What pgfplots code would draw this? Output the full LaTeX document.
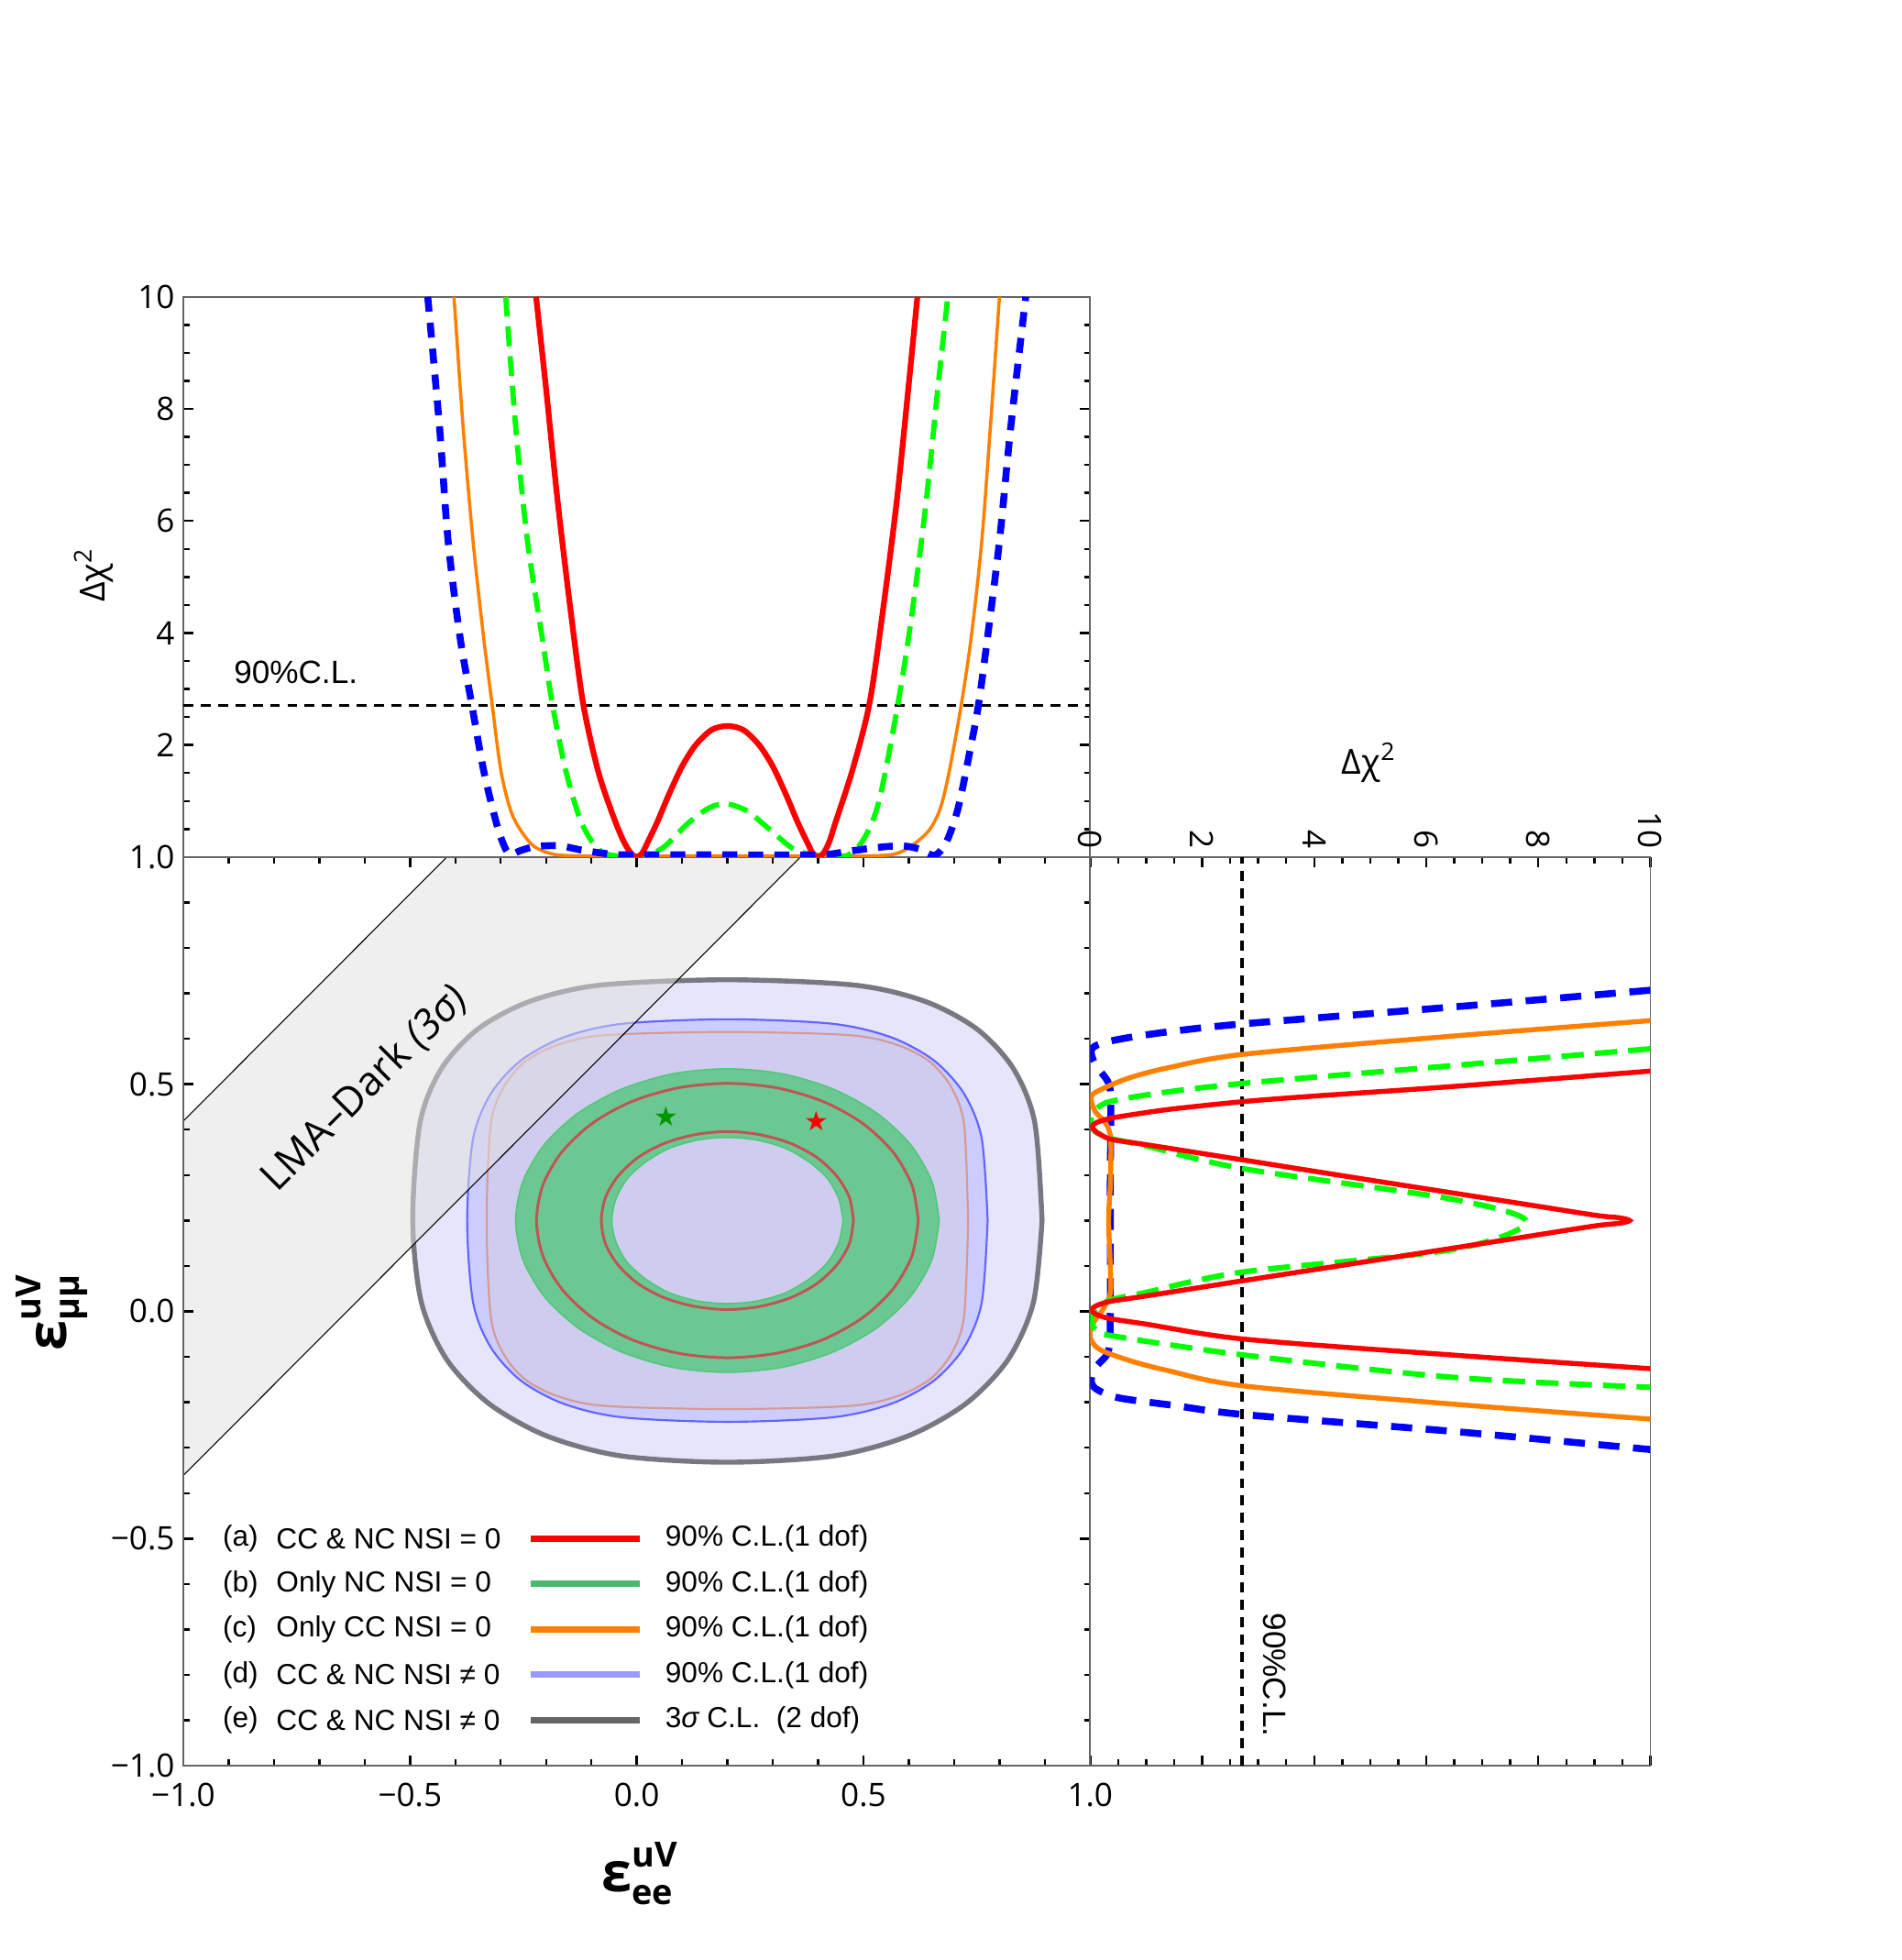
\documentclass[border=0pt]{standalone}
\usepackage{pgfplots}
\pgfplotsset{compat=1.18}
\usepackage{fontspec}
\setmainfont{Liberation Sans}
\newfontfamily\osans{Open Sans}
\newfontfamily\symf{DejaVu Sans}
\definecolor{lav}{RGB}{230,230,250}
\definecolor{dfill}{RGB}{204,204,255}
\definecolor{dline}{RGB}{100,100,255}
\definecolor{cfill}{RGB}{208,204,240}
\definecolor{cline}{RGB}{212,155,150}
\definecolor{gfill}{RGB}{108,200,146}
\definecolor{gline}{RGB}{80,200,120}
\definecolor{rline}{RGB}{190,85,85}
\definecolor{eline}{RGB}{120,120,128}
\definecolor{bandc}{RGB}{224,224,224}
\definecolor{myorange}{RGB}{255,128,0}
\definecolor{mygreen}{RGB}{0,255,0}
\definecolor{leggreen}{RGB}{72,184,112}
\definecolor{legblue}{RGB}{153,153,255}
\definecolor{leggray}{RGB}{102,102,102}
\definecolor{stargreen}{RGB}{0,150,0}
\newcommand\lab[3]{{\fontsize{22}{24}\selectfont #1}\rlap{\raisebox{0.72em}{#2}}\raisebox{-0.38em}{#3}}
\begin{document}
\begin{tikzpicture}
\path[use as bounding box] (-74pt,-78.4pt) rectangle (693.4pt,712.6pt);
\pgfplotsset{every axis/.append style={scale only axis, enlargelimits=false, tick align=inside,
  axis line style={black!60, line width=0.6pt}, tick style={black, line width=0.9pt},
  major tick length=4.2pt, minor tick length=2.5pt,
  tick label style={font=\osans\fontsize{13}{15}\selectfont},
  /pgf/number format/assume math mode=true}}
% ================= MAIN PANEL =================
\begin{axis}[name=main, at={(0,0)}, anchor=south west, width=366pt, height=366.7pt,
  xmin=-1, xmax=1, ymin=-1, ymax=1, axis on top,
  xtick={-1,-0.5,0,0.5,1}, xticklabels={−1.0,−0.5,0.0,0.5,1.0},
  ytick={-1,-0.5,0,0.5,1}, yticklabels={−1.0,−0.5,0.0,0.5,1.0},
  xticklabel style={yshift=-3.5pt},
  minor x tick num=4, minor y tick num=4, xtick pos=both, ytick pos=both]
% (e) 3 sigma 2 dof
\addplot[draw=eline, line width=2pt, fill=lav, smooth] coordinates {
(0.894,0.200) (0.878,0.415) (0.831,0.534) (0.751,0.621) (0.637,0.682) (0.482,0.718) (0.200,0.730)
(-0.082,0.718) (-0.237,0.682) (-0.351,0.621) (-0.431,0.534) (-0.478,0.415) (-0.494,0.200)
(-0.475,0.020) (-0.419,-0.106) (-0.326,-0.203) (-0.199,-0.274) (-0.035,-0.318) (0.200,-0.332)
(0.435,-0.318) (0.599,-0.274) (0.726,-0.203) (0.819,-0.106) (0.875,0.020) (0.894,0.200)};
% (d)
\addplot[draw=dline, line width=0.8pt, fill=dfill, smooth] coordinates {
(0.774,0.200) (0.761,0.380) (0.722,0.479) (0.656,0.552) (0.562,0.603) (0.433,0.633) (0.200,0.643)
(-0.033,0.633) (-0.162,0.603) (-0.256,0.552) (-0.322,0.479) (-0.361,0.380) (-0.374,0.200)
(-0.361,0.020) (-0.322,-0.079) (-0.256,-0.152) (-0.162,-0.203) (-0.033,-0.233) (0.200,-0.243)
(0.433,-0.233) (0.562,-0.203) (0.656,-0.152) (0.722,-0.079) (0.761,0.020) (0.774,0.200)};
% (c)
\addplot[draw=cline, line width=0.8pt, fill=cfill, smooth] coordinates {
(0.731,0.200) (0.722,0.411) (0.694,0.493) (0.647,0.549) (0.576,0.586) (0.470,0.608) (0.200,0.615)
(-0.070,0.608) (-0.176,0.586) (-0.247,0.549) (-0.294,0.493) (-0.322,0.411) (-0.331,0.200)
(-0.322,-0.011) (-0.294,-0.093) (-0.247,-0.149) (-0.176,-0.186) (-0.070,-0.208) (0.200,-0.215)
(0.470,-0.208) (0.576,-0.186) (0.647,-0.149) (0.694,-0.093) (0.722,-0.011) (0.731,0.200)};
% (b) green annulus
\addplot[draw=gline, line width=0.6pt, fill=gfill, smooth] coordinates {
(0.667,0.200) (0.651,0.286) (0.604,0.367) (0.530,0.436) (0.434,0.489) (0.321,0.523) (0.200,0.534)
(0.079,0.523) (-0.034,0.489) (-0.130,0.436) (-0.204,0.367) (-0.251,0.286) (-0.267,0.200)
(-0.251,0.114) (-0.204,0.033) (-0.130,-0.036) (-0.034,-0.089) (0.079,-0.123) (0.200,-0.134)
(0.321,-0.123) (0.434,-0.089) (0.530,-0.036) (0.604,0.033) (0.651,0.114) (0.667,0.200)};
\addplot[draw=gline, line width=0.6pt, fill=cfill, smooth] coordinates {
(0.455,0.200) (0.446,0.247) (0.421,0.292) (0.380,0.329) (0.328,0.359) (0.266,0.377) (0.200,0.383)
(0.134,0.377) (0.072,0.359) (0.020,0.329) (-0.021,0.292) (-0.046,0.247) (-0.055,0.200)
(-0.046,0.153) (-0.021,0.108) (0.020,0.071) (0.072,0.041) (0.134,0.023) (0.200,0.017)
(0.266,0.023) (0.328,0.041) (0.380,0.071) (0.421,0.108) (0.446,0.153) (0.455,0.200)};
% (a) red
\addplot[draw=rline, line width=1.1pt, smooth] coordinates {
(0.621,0.200) (0.607,0.278) (0.565,0.351) (0.498,0.414) (0.411,0.462) (0.309,0.492) (0.200,0.502)
(0.091,0.492) (-0.011,0.462) (-0.098,0.414) (-0.165,0.351) (-0.207,0.278) (-0.221,0.200)
(-0.207,0.122) (-0.165,0.049) (-0.098,-0.014) (-0.011,-0.062) (0.091,-0.092) (0.200,-0.102)
(0.309,-0.092) (0.411,-0.062) (0.498,-0.014) (0.565,0.049) (0.607,0.122) (0.621,0.200)};
\addplot[draw=rline, line width=1.1pt, smooth] coordinates {
(0.478,0.200) (0.469,0.251) (0.441,0.298) (0.397,0.339) (0.339,0.370) (0.272,0.389) (0.200,0.396)
(0.128,0.389) (0.061,0.370) (0.003,0.339) (-0.041,0.298) (-0.069,0.251) (-0.078,0.200)
(-0.069,0.149) (-0.041,0.102) (0.003,0.061) (0.061,0.030) (0.128,0.011) (0.200,0.004)
(0.272,0.011) (0.339,0.030) (0.397,0.061) (0.441,0.102) (0.469,0.149) (0.478,0.200)};
% LMA-Dark band
\addplot[draw=none, fill=bandc, fill opacity=0.5] coordinates {(-1,0.419) (-0.419,1) (0.361,1) (-1,-0.361)} -- cycle;
\addplot[black, line width=0.4pt] coordinates {(-1,0.419) (-0.419,1)};
\addplot[black, line width=0.4pt] coordinates {(-1,-0.361) (0.361,1)};
% best fit stars
\addplot[only marks, mark=text, text mark={\textcolor{stargreen}{\symf\fontsize{11}{11}\selectfont ★}}] coordinates {(0.065,0.43)};
\addplot[only marks, mark=text, text mark={\textcolor{red}{\symf\fontsize{11}{11}\selectfont ★}}] coordinates {(0.397,0.42)};
\node[rotate=45, font=\osans\fontsize{16.3}{18}\selectfont] at (axis cs:-0.6,0.49) {LMA–Dark {\itshape (3σ)}};
% legend
\begin{scope}[every node/.style={anchor=west, font=\fontsize{11.7}{13}\selectfont, inner sep=0pt}]
\node at (axis cs:-0.914,-0.5) {(a)}; \node at (axis cs:-0.796,-0.5) {CC \& NC NSI = 0};
\node at (axis cs:-0.914,-0.6) {(b)}; \node at (axis cs:-0.796,-0.6) {Only NC NSI = 0};
\node at (axis cs:-0.914,-0.7) {(c)}; \node at (axis cs:-0.796,-0.7) {Only CC NSI = 0};
\node at (axis cs:-0.914,-0.8) {(d)}; \node at (axis cs:-0.796,-0.8) {CC \& NC NSI ≠ 0};
\node at (axis cs:-0.914,-0.9) {(e)}; \node at (axis cs:-0.796,-0.9) {CC \& NC NSI ≠ 0};
\node at (axis cs:0.062,-0.5) {90\% C.L.(1 dof)};
\node at (axis cs:0.062,-0.6) {90\% C.L.(1 dof)};
\node at (axis cs:0.062,-0.7) {90\% C.L.(1 dof)};
\node at (axis cs:0.062,-0.8) {90\% C.L.(1 dof)};
\node at (axis cs:0.062,-0.9) {3{\itshape σ} C.L.\ \ (2 dof)};
\end{scope}
\draw[line width=2.6pt, red] (axis cs:-0.233,-0.5) -- (axis cs:0.007,-0.5);
\draw[line width=2.6pt, leggreen] (axis cs:-0.233,-0.6) -- (axis cs:0.007,-0.6);
\draw[line width=2.6pt, myorange] (axis cs:-0.233,-0.7) -- (axis cs:0.007,-0.7);
\draw[line width=2.6pt, legblue] (axis cs:-0.233,-0.8) -- (axis cs:0.007,-0.8);
\draw[line width=2.6pt, leggray] (axis cs:-0.233,-0.9) -- (axis cs:0.007,-0.9);
\end{axis}
% ================= TOP PANEL =================
\begin{axis}[name=top, at={(0,366.7pt)}, anchor=south west, width=366pt, height=226.1pt,
  xmin=-1, xmax=1, ymin=0, ymax=10, xtick=\empty,
  ytick={0,2,4,6,8,10}, yticklabels={,2,4,6,8,10}, minor y tick num=3, ytick pos=both]
\addplot[black, line width=1.2pt, dash pattern=on 4pt off 3pt] coordinates {(-1,2.71) (1,2.71)};
\addplot[myorange, line width=1.3pt, smooth] coordinates {
(-0.403,10) (-0.383,7.68) (-0.361,5.64) (-0.338,3.94) (-0.319,2.73) (-0.300,1.56) (-0.280,0.88)
(-0.261,0.54) (-0.228,0.2) (-0.183,0.05) (-0.12,0.02) (0.0,0.02) (0.2,0.02) (0.4,0.02) (0.5,0.02)
(0.567,0.05) (0.606,0.2) (0.645,0.48) (0.670,0.88) (0.690,1.56) (0.716,2.73) (0.738,3.94)
(0.761,5.64) (0.780,7.68) (0.800,10)};
\addplot[mygreen, line width=2.1pt, dash pattern=on 8pt off 4pt, smooth] coordinates {
(-0.289,10) (-0.267,7.68) (-0.241,5.64) (-0.209,3.94) (-0.186,2.73) (-0.157,1.56) (-0.125,0.68)
(-0.092,0.2) (-0.06,0.04) (0,0.02) (0.03,0.05) (0.063,0.2) (0.114,0.61) (0.16,0.88) (0.198,0.95)
(0.244,0.82) (0.295,0.48) (0.347,0.14) (0.399,0.03) (0.464,0.03) (0.502,0.34) (0.535,1.02)
(0.576,2.73) (0.606,4.28) (0.638,6.32) (0.664,8.36) (0.686,10)};
\addplot[red, line width=2.3pt, smooth] coordinates {
(-0.222,10) (-0.200,8.36) (-0.174,6.32) (-0.144,4.28) (-0.118,2.73) (-0.086,1.56) (-0.055,0.80)
(-0.03,0.3) (-0.012,0.06) (0,0.0) (0.012,0.07) (0.025,0.28) (0.045,0.62) (0.07,1.1) (0.1,1.62)
(0.13,2.0) (0.165,2.27) (0.2,2.34) (0.235,2.27) (0.27,2.0) (0.3,1.62) (0.33,1.1) (0.355,0.62)
(0.375,0.28) (0.388,0.07) (0.4,0.0) (0.412,0.07) (0.425,0.28) (0.438,0.61) (0.476,1.56)
(0.513,2.73) (0.541,4.28) (0.573,6.32) (0.599,8.36) (0.619,10)};
\addplot[blue, line width=2.8pt, dash pattern=on 6pt off 4.5pt, smooth] coordinates {
(-0.461,10) (-0.435,7.68) (-0.416,5.64) (-0.390,3.94) (-0.364,2.73) (-0.338,1.56) (-0.312,0.68)
(-0.295,0.25) (-0.28,0.05) (-0.255,0.12) (-0.222,0.19) (-0.17,0.2) (-0.118,0.12) (-0.054,0.05)
(0.0,0.04) (0.2,0.04) (0.4,0.04) (0.464,0.1) (0.528,0.17) (0.586,0.2) (0.625,0.14) (0.657,0.03)
(0.683,0.27) (0.709,0.88) (0.735,1.9) (0.754,2.73) (0.774,3.94) (0.800,5.64) (0.825,7.68) (0.858,10)};
\node[font=\fontsize{13}{15}\selectfont] at (axis cs:-0.752,3.30) {90\%C.L.};
\end{axis}
% ================= RIGHT PANEL =================
\begin{axis}[name=right, at={(366pt,0)}, anchor=south west, width=226.1pt, height=366.7pt,
  xmin=0, xmax=10, ymin=-1, ymax=1, ytick=\empty,
  xtick={0,2,4,6,8,10}, minor x tick num=3, xtick pos=both, xticklabel pos=upper,
  xticklabel style={rotate=-90, anchor=east}]
\addplot[black, line width=1.2pt, dash pattern=on 4pt off 3pt] coordinates {(2.71,-1) (2.71,1)};
\addplot[blue, line width=2.8pt, dash pattern=on 8.5pt off 5.5pt, smooth] coordinates {
(10,0.707) (6.47,0.67) (2.74,0.633) (1.5,0.617) (0.7,0.603) (0.2,0.59) (0.02,0.575) (0.09,0.544)
(0.33,0.502) (0.37,0.45) (0.36,0.3) (0.36,0.1) (0.36,0.0) (0.33,-0.086) (0.12,-0.12) (0.02,-0.15)
(0.1,-0.17) (0.5,-0.19) (1.5,-0.207) (2.74,-0.227) (6.47,-0.264) (10,-0.304)};
\addplot[myorange, line width=2pt, smooth] coordinates {
(10,0.64) (6.47,0.606) (2.74,0.566) (1.38,0.536) (0.7,0.514) (0.22,0.49) (0.02,0.473) (0.09,0.44)
(0.26,0.418) (0.36,0.388) (0.37,0.33) (0.36,0.277) (0.33,0.2) (0.36,0.1) (0.36,0.04) (0.22,0.003)
(0.05,-0.027) (0.0,-0.056) (0.16,-0.083) (0.7,-0.108) (1.38,-0.13) (2.74,-0.164) (6.47,-0.204) (10,-0.237)};
\addplot[mygreen, line width=2.2pt, dash pattern=on 9pt off 4.5pt, smooth] coordinates {
(10,0.578) (6.47,0.541) (2.74,0.502) (1.2,0.480) (0.36,0.462) (0.12,0.447) (0.03,0.43) (0.02,0.412)
(0.1,0.395) (0.36,0.381) (1.0,0.364) (2.74,0.314) (6.47,0.247) (7.79,0.197) (6.47,0.136)
(2.74,0.087) (1.0,0.042) (0.36,0.025) (0.1,0.005) (0.02,-0.02) (0.1,-0.04) (0.36,-0.053)
(2.74,-0.096) (6.47,-0.145) (10,-0.167)};
\addplot[red, line width=2pt, smooth] coordinates {
(10,0.529) (6.47,0.495) (4,0.474) (2.75,0.462) (1.5,0.446) (0.8,0.434) (0.36,0.425) (0.12,0.416)
(0.03,0.407) (0.08,0.398) (0.2,0.388) (0.4,0.378) (1.0,0.367) (2.75,0.333) (5,0.289) (7.5,0.241)
(9,0.212) (9.45,0.206) (9.63,0.2) (9.45,0.194) (9,0.188) (7.5,0.159) (5,0.111) (2.75,0.068)
(1.0,0.034) (0.36,0.022) (0.1,0.012) (0.03,0.003) (0.1,-0.006) (0.36,-0.016) (1.0,-0.028)
(2.75,-0.061) (6.47,-0.096) (10,-0.126)};
\node[rotate=-90, font=\fontsize{13}{15}\selectfont] at (axis cs:3.30,-0.80) {90\%C.L.};
\end{axis}
% ================= AXIS LABELS =================
\node[font=\osans\bfseries\fontsize{14}{16}\selectfont] at (183.2pt,-43.5pt) {\lab{ε}{uV}{ee}};
\node[rotate=90, font=\osans\bfseries\fontsize{14}{16}\selectfont] at (-53pt,182.7pt) {\lab{ε}{uV}{μμ}};
\node[rotate=90, font=\osans\fontsize{14}{16}\selectfont] at (-36.3pt,480.5pt) {Δχ\textsuperscript{2}};
\node[font=\osans\fontsize{14}{16}\selectfont] at (478.5pt,404.8pt) {Δχ\textsuperscript{2}};
\end{tikzpicture}
\end{document}
